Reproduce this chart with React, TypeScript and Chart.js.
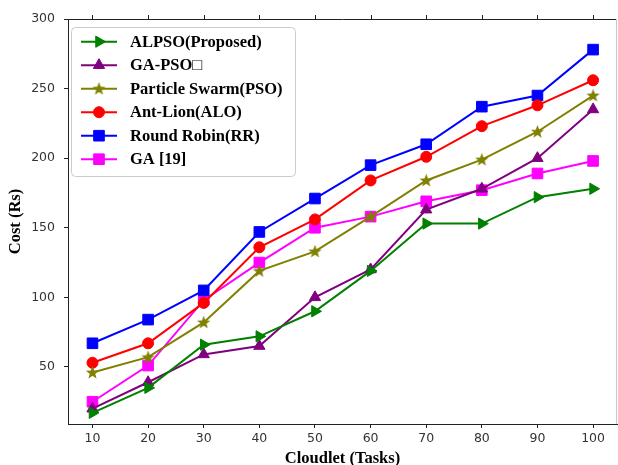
import React, { useEffect, useRef } from 'react';
import { Chart, registerables } from 'chart.js';
import { drawPoint } from 'chart.js/helpers';

Chart.register(...registerables);

// ---- data ----
const cloudlets = [10, 20, 30, 40, 50, 60, 70, 80, 90, 100];
const alpso = [17, 35, 66, 72, 90, 119, 153, 153, 172, 178];
const gaPso = [20, 39, 59, 65, 100, 120, 163, 178, 200, 235];
const pso = [46, 57, 82, 119, 133, 158, 184, 199, 219, 245];
const alo = [53, 67, 96, 136, 156, 184, 201, 223, 238, 256];
const rr = [67, 84, 105, 147, 171, 195, 210, 237, 245, 278];
const ga19 = [25, 51, 98, 125, 150, 158, 169, 177, 189, 198];
const xTicks = [10, 20, 30, 40, 50, 60, 70, 80, 90, 100];
const yTicks = [50, 100, 150, 200, 250, 300];
const seriesLabels = [
  'ALPSO(Proposed)',
  'GA-PSO\u25A1',
  'Particle Swarm(PSO)',
  'Ant-Lion(ALO)',
  'Round Robin(RR)',
  'GA [19]',
];

const AXIS = '#222222';
const TICK_FONT = { family: 'DejaVu Sans', size: 12.5 };
const TITLE_FONT = { family: 'Liberation Serif', size: 16.5, weight: 'bold' as const, lineHeight: 1 };

function makeStar(color: string): HTMLCanvasElement {
  const c = document.createElement('canvas');
  c.width = 15;
  c.height = 15;
  const ctx = c.getContext('2d')!;
  const cx = 7.5, cy = 7.8, ro = 7, ri = 2.9;
  ctx.beginPath();
  for (let i = 0; i < 10; i++) {
    const r = i % 2 === 0 ? ro : ri;
    const a = -Math.PI / 2 + (i * Math.PI) / 5;
    const px = cx + r * Math.cos(a);
    const py = cy + r * Math.sin(a);
    if (i === 0) ctx.moveTo(px, py);
    else ctx.lineTo(px, py);
  }
  ctx.closePath();
  ctx.fillStyle = color;
  ctx.fill();
  return c;
}

const framePlugin = {
  id: 'frame',
  afterDatasetsDraw(chart: any) {
    const { ctx, chartArea } = chart;
    const xs = chart.scales.x;
    ctx.save();
    ctx.strokeStyle = AXIS;
    ctx.lineWidth = 1;
    // top spine
    ctx.beginPath();
    ctx.moveTo(chartArea.left, chartArea.top + 0.5);
    ctx.lineTo(chartArea.right, chartArea.top + 0.5);
    ctx.stroke();
    // top ticks
    xTicks.forEach((v) => {
      const px = Math.round(xs.getPixelForValue(v)) + 0.5;
      ctx.beginPath();
      ctx.moveTo(px, chartArea.top + 0.5);
      ctx.lineTo(px, chartArea.top - 4);
      ctx.stroke();
    });
    // right spine (faint, cropped)
    ctx.strokeStyle = '#c8c8c8';
    ctx.beginPath();
    ctx.moveTo(chartArea.right - 0.5, chartArea.top);
    ctx.lineTo(chartArea.right - 0.5, chartArea.bottom);
    ctx.stroke();
    ctx.restore();

    // legend
    const bx = 71, by = 27, bw = 224, bh = 149;
    ctx.save();
    ctx.fillStyle = 'rgba(255,255,255,0.85)';
    ctx.strokeStyle = '#cccccc';
    ctx.lineWidth = 1;
    ctx.beginPath();
    (ctx as any).roundRect(bx + 0.5, by + 0.5, bw, bh, 4);
    ctx.fill();
    ctx.stroke();
    const rowStart = 41.7;
    const rowStep = 23.5;
    chart.data.datasets.forEach((ds: any, i: number) => {
      const y = rowStart + i * rowStep;
      ctx.strokeStyle = ds.borderColor;
      ctx.lineWidth = ds.borderWidth;
      ctx.beginPath();
      ctx.moveTo(81, y);
      ctx.lineTo(117, y);
      ctx.stroke();
      ctx.fillStyle = ds.pointBackgroundColor;
      ctx.strokeStyle = ds.pointBorderColor;
      ctx.lineWidth = ds.pointBorderWidth;
      drawPoint(
        ctx,
        { pointStyle: ds.pointStyle, rotation: ds.pointRotation || 0, radius: ds.pointRadius, borderWidth: ds.pointBorderWidth },
        99,
        y
      );
      ctx.fillStyle = '#000';
      ctx.font = 'bold 16.5px "Liberation Serif"';
      ctx.textBaseline = 'middle';
      ctx.textAlign = 'left';
      ctx.fillText(ds.label, 130, y + 1);
    });
    ctx.restore();
  },
};

export default function App() {
  const ref = useRef<HTMLCanvasElement>(null);

  useEffect(() => {
    if (!ref.current) return;
    const toPts = (arr: number[]) => cloudlets.map((c, i) => ({ x: c, y: arr[i] }));
    const mk = (label: string, arr: number[], color: string, style: any, radius: number, rotation = 0) => ({
      label,
      data: toPts(arr),
      borderColor: color,
      backgroundColor: color,
      borderWidth: 2,
      pointStyle: style,
      pointRadius: radius,
      pointRotation: rotation,
      pointBackgroundColor: color,
      pointBorderColor: color,
      pointBorderWidth: 1,
      fill: false,
      tension: 0,
      clip: false,
    });
    const star = makeStar('#808000');
    const datasets = [
      mk(seriesLabels[0], alpso, '#008000', 'triangle', 6.5, 90),
      mk(seriesLabels[1], gaPso, '#800080', 'triangle', 6.5),
      mk(seriesLabels[2], pso, '#808000', star, 7),
      mk(seriesLabels[3], alo, '#ff0000', 'circle', 5.5),
      mk(seriesLabels[4], rr, '#0000ff', 'rect', 7.5),
      mk(seriesLabels[5], ga19, '#ff00ff', 'rect', 7.5),
    ];

    const chart = new Chart(ref.current, {
      type: 'line',
      data: { datasets },
      plugins: [framePlugin],
      options: {
        responsive: false,
        animation: false,
        layout: { autoPadding: false, padding: { top: 19, right: 1, left: 0, bottom: 0 } },
        plugins: { legend: { display: false }, tooltip: { enabled: false } },
        scales: {
          x: {
            type: 'linear',
            min: 5.6,
            max: 104.3,
            afterFit: (s: any) => { s.height = 41; s.paddingLeft = 0; s.paddingRight = 0; },
            afterBuildTicks: (s: any) => { s.ticks = xTicks.map((v) => ({ value: v })); },
            grid: { drawOnChartArea: false, drawTicks: true, tickLength: 4, color: AXIS },
            border: { display: true, color: AXIS, width: 1 },
            ticks: { color: '#333', font: TICK_FONT, padding: 3, maxRotation: 0, autoSkip: false },
            title: { display: true, text: 'Cloudlet (Tasks)', color: '#000', font: TITLE_FONT, padding: { top: 0, bottom: -2 } },
          },
          y: {
            type: 'linear',
            min: 9,
            max: 300,
            afterFit: (s: any) => { s.width = 68; s.paddingTop = 0; s.paddingBottom = 0; },
            afterBuildTicks: (s: any) => { s.ticks = yTicks.map((v) => ({ value: v })); },
            grid: { drawOnChartArea: false, drawTicks: true, tickLength: 4, color: AXIS },
            border: { display: true, color: AXIS, width: 1 },
            ticks: { color: '#333', font: TICK_FONT, padding: 9, autoSkip: false },
            title: { display: true, text: 'Cost (Rs)', color: '#000', font: TITLE_FONT, padding: { top: 7, bottom: 7 } },
          },
        },
      } as any,
    });
    return () => chart.destroy();
  }, []);

  return (
    <div style={{ position: 'fixed', left: 0, top: 0, width: 618, height: 465, background: '#fff' }}>
      <canvas ref={ref} width={618} height={465} style={{ width: 618, height: 465, display: 'block' }} />
    </div>
  );
}
